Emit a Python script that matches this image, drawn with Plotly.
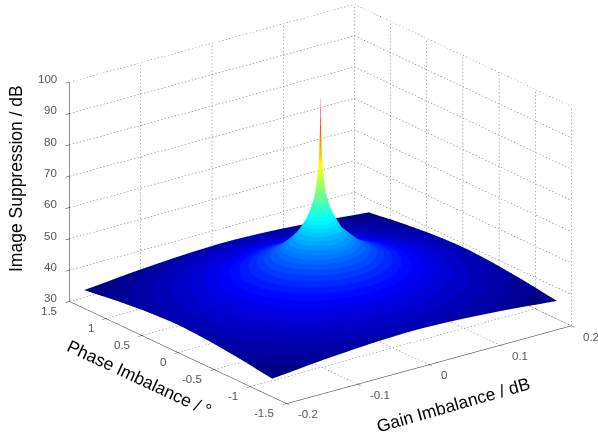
import numpy as np
import plotly.graph_objects as go

# Magnitudes of the sampled imbalances (the surface is mirrored about both zero lines)
gain_steps = [0, 0.0005, 0.002, 0.006, 0.012, 0.025, 0.05, 0.075, 0.1, 0.125, 0.15, 0.175, 0.2]
phase_steps = [0, 0.003, 0.013, 0.04, 0.08, 0.165, 0.325, 0.49, 0.65, 0.81, 0.975, 1.14, 1.3]
# Image suppression (dB) for one quadrant: rows = phase_steps, columns = gain_steps
suppression_quadrant = [
    [100.0, 90.8, 78.8, 69.3, 63.2, 56.9, 50.8, 47.3, 44.8, 42.9, 41.3, 40.0, 38.8],
    [90.8, 87.8, 78.5, 69.2, 63.2, 56.8, 50.8, 47.3, 44.8, 42.9, 41.3, 40.0, 38.8],
    [78.8, 78.5, 75.8, 68.8, 63.1, 56.8, 50.8, 47.3, 44.8, 42.9, 41.3, 39.9, 38.8],
    [69.3, 69.2, 68.8, 66.2, 62.3, 56.6, 50.8, 47.3, 44.8, 42.9, 41.3, 39.9, 38.8],
    [63.2, 63.2, 63.1, 62.3, 60.2, 56.0, 50.6, 47.2, 44.8, 42.8, 41.3, 39.9, 38.8],
    [56.9, 56.8, 56.8, 56.6, 56.0, 53.8, 49.9, 46.9, 44.6, 42.7, 41.2, 39.9, 38.7],
    [50.8, 50.8, 50.8, 50.8, 50.6, 49.9, 47.8, 45.7, 43.8, 42.2, 40.8, 39.6, 38.5],
    [47.3, 47.3, 47.3, 47.3, 47.2, 46.9, 45.7, 44.3, 42.9, 41.5, 40.3, 39.2, 38.2],
    [44.8, 44.8, 44.8, 44.8, 44.8, 44.6, 43.8, 42.9, 41.8, 40.7, 39.7, 38.7, 37.8],
    [42.9, 42.9, 42.9, 42.9, 42.8, 42.7, 42.2, 41.5, 40.7, 39.9, 39.0, 38.2, 37.4],
    [41.3, 41.3, 41.3, 41.3, 41.3, 41.2, 40.8, 40.3, 39.7, 39.0, 38.3, 37.6, 36.9],
    [40.0, 40.0, 39.9, 39.9, 39.9, 39.9, 39.6, 39.2, 38.7, 38.2, 37.6, 36.9, 36.3],
    [38.8, 38.8, 38.8, 38.8, 38.8, 38.7, 38.5, 38.2, 37.8, 37.4, 36.9, 36.3, 35.8],
]
gain_ticks = [-0.2, -0.1, 0, 0.1, 0.2]
gain_labels = ["-0.2", "-0.1", "0", "0.1", "0.2"]
phase_ticks = [-1.5, -1, -0.5, 0, 0.5, 1, 1.5]
phase_labels = ["-1.5", "-1", "-0.5", "0", "0.5", "1", "1.5"]
z_ticks = [30, 40, 50, 60, 70, 80, 90, 100]
z_labels = ["30", "40", "50", "60", "70", "80", "90", "100"]

q = np.array(suppression_quadrant)
right = np.hstack([q[:, :0:-1], q])
z = np.vstack([right[:0:-1], right])
gain = [-v for v in gain_steps[:0:-1]] + gain_steps
phase = [-v for v in phase_steps[:0:-1]] + phase_steps


def jet(t):
    c = [min(1, max(0, 1.5 - abs(4 * t - k))) for k in (3, 2, 1)]
    return "rgb(%d,%d,%d)" % tuple(round(255 * v) for v in c)


colorscale = []
for i in range(64):
    colorscale += [[i / 64, jet((i + 0.5) / 64)], [(i + 1) / 64, jet((i + 0.5) / 64)]]

x0, x1 = gain_ticks[0], gain_ticks[-1]
y0, y1 = phase_ticks[0], phase_ticks[-1]
z0, z1 = z_ticks[0], z_ticks[-1]
gx, gy, gz = [], [], []


def dotted(a, b, pixels):
    """Dotted grid line: short dashes about 3.5 px apart, each about 1.3 px long."""
    a, b = np.array(a, float), np.array(b, float)
    n = int(pixels / 3.5)
    for k in range(n):
        s = k / n
        e = s + 1.3 / pixels
        p, r = a + (b - a) * s, a + (b - a) * e
        gx.extend([p[0], r[0], None])
        gy.extend([p[1], r[1], None])
        gz.extend([p[2], r[2], None])


for t in gain_ticks:
    dotted((t, y0, z0), (t, y1, z0), 240)
    dotted((t, y1, z0), (t, y1, z1), 220)
for t in phase_ticks:
    dotted((x0, t, z0), (x1, t, z0), 295)
    dotted((x1, t, z0), (x1, t, z1), 220)
for t in z_ticks:
    dotted((x0, y1, t), (x1, y1, t), 295)
    dotted((x1, y1, t), (x1, y0, t), 240)

fig = go.Figure()
fig.add_trace(go.Scatter3d(x=gx, y=gy, z=gz, mode="lines", hoverinfo="skip", showlegend=False,
                           line=dict(color="#555555", width=1)))
fig.add_trace(go.Surface(x=gain, y=phase, z=z, colorscale=colorscale, cmin=35.8, cmax=103,
                         showscale=False, hoverinfo="skip",
                         lighting=dict(ambient=1, diffuse=0, specular=0, fresnel=0, roughness=1)))


def axis(vals, rng):
    return dict(range=rng, tickmode="array", tickvals=vals, title=dict(text=""),
                showticklabels=False,
                showgrid=False, zeroline=False, showbackground=False, showspikes=False,
                showline=True, linecolor="#222222", linewidth=1, ticks="outside", ticklen=5,
                tickcolor="#222222")


tick_font = dict(family="Liberation Sans", size=11.5, color="#555555")
scene_notes = []
for v, s in zip(z_ticks, z_labels):
    scene_notes.append(dict(x=x0, y=y1, z=v, text=s, showarrow=False, xanchor="right",
                            xshift=-10, yshift=3, font=tick_font))
for v, s in zip(phase_ticks, phase_labels):
    scene_notes.append(dict(x=x0, y=v, z=z0, text=s, showarrow=False, xanchor="right",
                            xshift=-10, yshift=-10, font=tick_font))
for v, s in zip(gain_ticks, gain_labels):
    scene_notes.append(dict(x=v, y=y0, z=z0, text=s, showarrow=False, xanchor="left",
                            xshift=10, yshift=-11, font=tick_font))

dist = 1.7
scale = 1.773
eye = dict(x=-0.5658 * dist, y=-0.7427 * dist, z=0.3587 * dist)
fig.update_layout(
    width=598, height=441, margin=dict(l=0, r=0, t=0, b=0), paper_bgcolor="white",
    showlegend=False,
    scene=dict(
        domain=dict(x=[0.0733, 0.9983], y=[0.08, 0.996]),
        xaxis=axis(gain_ticks, [x0, x1]),
        yaxis=axis(phase_ticks, [y0, y1]),
        zaxis=axis(z_ticks, [z0, z1]),
        aspectmode="manual", aspectratio=dict(x=scale, y=scale, z=0.656 * scale),
        bgcolor="white",
        camera=dict(eye=eye, center=dict(x=0, y=0, z=0), up=dict(x=0, y=0, z=1),
                    projection=dict(type="orthographic")),
        annotations=scene_notes,
    ),
    annotations=[
        dict(text="Image Suppression / dB", x=16 / 598, y=1 - 179 / 441, textangle=-90),
        dict(text="Phase Imbalance / °", x=139 / 598, y=1 - 378 / 441, textangle=25),
        dict(text="Gain Imbalance / dB", x=453 / 598, y=1 - 405 / 441, textangle=-16),
    ],
)
for a in fig.layout.annotations:
    a.update(xref="paper", yref="paper", xanchor="center", yanchor="middle", showarrow=False,
             font=dict(family="Liberation Sans", size=17.5, color="black"))

fig.write_html("out.html", config=dict(displayModeBar=False),
               post_script="document.body.style.margin='0';")
